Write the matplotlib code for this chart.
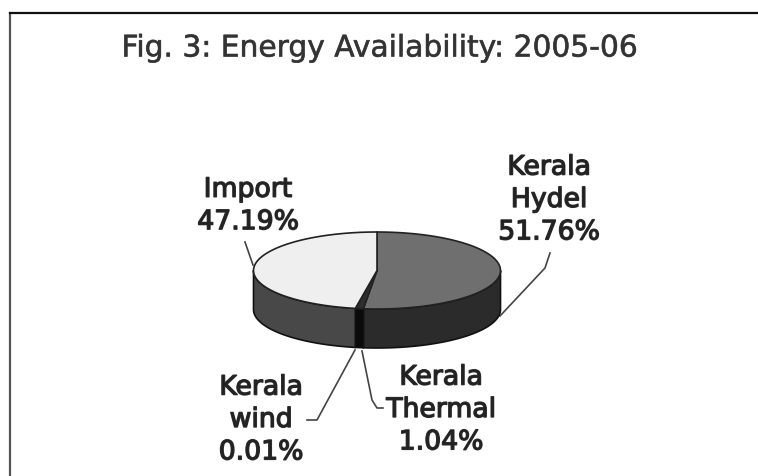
import numpy as np
import matplotlib
matplotlib.use("Agg")
import matplotlib.pyplot as plt
import matplotlib.patheffects as pe
from matplotlib.patches import Polygon

# shares clockwise from 12 o'clock
names = ['Kerala\nHydel\n51.76%', 'Kerala\nThermal\n1.04%', 'Kerala\nwind\n0.01%', 'Import\n47.19%']
values = [51.76, 1.04, 0.01, 47.19]
top_colors = ['#6f6f6f', '#2e2e2e', '#2e2e2e', '#efefef']
side_colors = ['#2b2b2b', '#0a0a0a', '#0a0a0a', '#484848']
title = 'Fig. 3: Energy Availability: 2005-06'

plt.rcParams['font.family'] = ['DejaVu Sans']

W, H = 758, 476
cx, cy, rx, ry, depth = 377, 270.5, 123.5, 38.5, 39

fig = plt.figure(figsize=(W / 100, H / 100), dpi=100)
ax = fig.add_axes([0, 0, 1, 1])
ax.set_xlim(0, W)
ax.set_ylim(H, 0)
ax.axis('off')


def rim(a0, a1, dy=0):
    # angles in degrees clockwise from the top
    t = np.radians(np.linspace(a0, a1, 80))
    return np.column_stack([cx + rx * np.sin(t), cy + dy - ry * np.cos(t)])


# frame, only left and top
ax.plot([10, 10], [H, 12.5], color='#555555', lw=1.6)
ax.plot([10, W], [12.5, 12.5], color='#111111', lw=1.6)

edges = np.cumsum([0] + values) / sum(values) * 360

# side of the drum, only the front half shows
for a0, a1, c in zip(edges[:-1], edges[1:], side_colors):
    lo, hi = max(a0, 90), min(a1, 270)
    if hi <= lo:
        continue
    pts = np.vstack([rim(lo, hi), rim(lo, hi, depth)[::-1]])
    ax.add_patch(Polygon(pts, closed=True, fc=c, ec='#111111', lw=1.2, zorder=2))

# top face
for a0, a1, c in zip(edges[:-1], edges[1:], top_colors):
    pts = np.vstack([[cx, cy], rim(a0, a1)])
    ax.add_patch(Polygon(pts, closed=True, fc=c, ec='#222222', lw=1.2, zorder=3))

ax.text(380, 48, title, ha='center', va='center', fontsize=21.4, color='#333333',
        path_effects=[pe.withStroke(linewidth=0.5, foreground='#555555')])

# labels and leader lines
label_pos = [(549, 200), (441, 410), (261, 420), (248, 206)]
leaders = [
    [(550, 253), (545, 268), (500, 316)],
    [(362, 351), (372, 400), (377, 408), (383, 408)],
    [(355, 350), (317, 420), (307, 420)],
    [(245, 242), (253, 265)],
]
for name, pos, line in zip(names, label_pos, leaders):
    ax.text(pos[0], pos[1], name, ha='center', va='center', fontsize=19.2,
            color='#222222', linespacing=1.32,
            path_effects=[pe.withStroke(linewidth=1.0, foreground='#333333')])
    xs, ys = zip(*line)
    ax.plot(xs, ys, color='#444444', lw=1.2, zorder=1)

fig.savefig('out.png', dpi=100)
